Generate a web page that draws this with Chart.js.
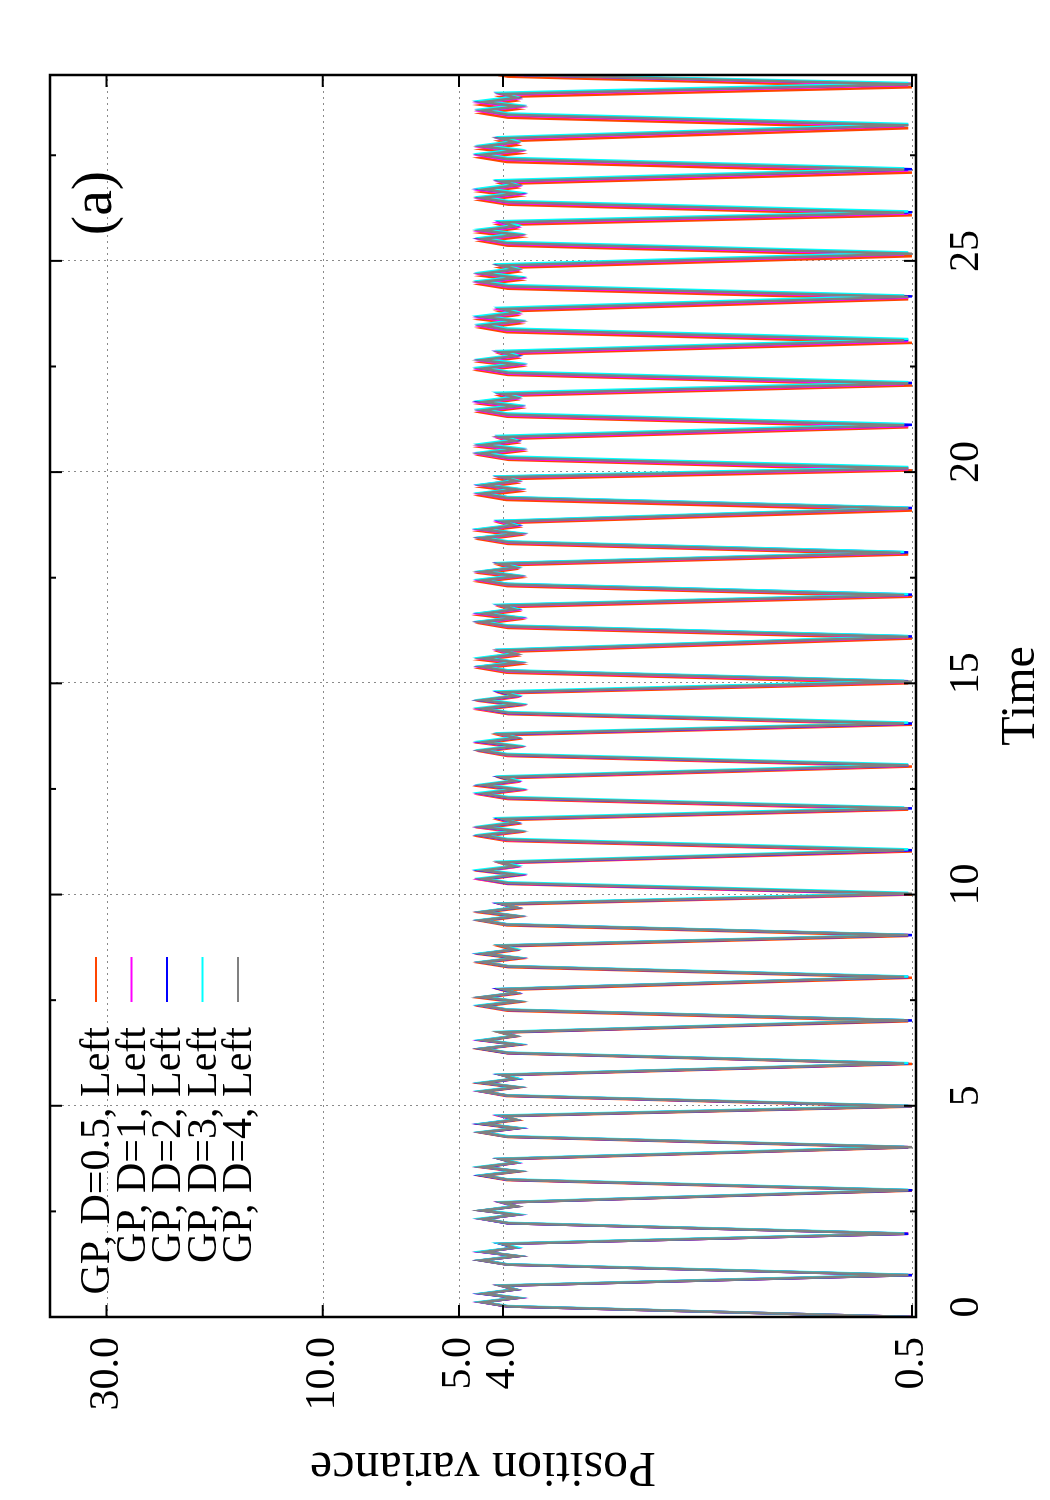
<!DOCTYPE html>
<html lang="en">
<head>
  <meta charset="UTF-8" />
  <title>Position variance vs Time (a)</title>
  <script src="https://cdn.jsdelivr.net/npm/chart.js"></script>
  <style>
    body { margin: 0; background: #fff; overflow: hidden; }
    /* the chart is drawn landscape, then turned a quarter turn like the original page */
    #wrap { position: absolute; left: 0; top: 0; width: 1500px; height: 1050px;
            transform-origin: 0 0; transform: translateY(1500px) rotate(-90deg); }
  </style>
</head>
<body>
<div id="wrap"><canvas id="chart" width="1500" height="1050"></canvas></div>

<script>
  // ---- data: [time, position variance] ----
  const seriesLabels = ['GP, D=0.5, Left', 'GP, D=1, Left', 'GP, D=2, Left', 'GP, D=3, Left', 'GP, D=4, Left'];
  const seriesColors = ['#ff4500', '#ff00ff', '#0000ff', '#00ffff', '#808080'];

  const dataD05 = [
    [0,0.5],[0.25,3.92],[0.35,4.43],[0.45,3.74],[0.55,4.4],[0.65,3.77],[0.74,4.02],
    [0.99,0.5],[1.24,3.9],[1.34,4.46],[1.44,3.72],[1.54,4.43],[1.64,3.75],[1.73,4.03],
    [1.97,0.51],[2.22,3.9],[2.32,4.42],[2.42,3.76],[2.52,4.44],[2.62,3.74],[2.71,4.0],
    [2.99,0.5],[3.24,3.92],[3.34,4.45],[3.44,3.72],[3.54,4.42],[3.64,3.78],[3.73,4.02],
    [4.01,0.51],[4.26,3.9],[4.36,4.44],[4.46,3.75],[4.56,4.43],[4.66,3.72],[4.75,4.03],
    [4.98,0.5],[5.23,3.93],[5.33,4.42],[5.43,3.73],[5.53,4.46],[5.63,3.76],[5.72,4.0],
    [5.99,0.5],[6.24,3.9],[6.34,4.47],[6.44,3.71],[6.54,4.41],[6.64,3.77],[6.73,4.04],
    [7.0,0.51],[7.25,3.91],[7.35,4.44],[7.45,3.73],[7.55,4.45],[7.65,3.75],[7.74,4.02],
    [8.03,0.5],[8.28,3.89],[8.38,4.46],[8.48,3.7],[8.58,4.42],[8.68,3.77],[8.77,4.05],
    [9.02,0.51],[9.27,3.92],[9.37,4.43],[9.47,3.74],[9.57,4.44],[9.67,3.72],[9.76,4.0],
    [10.0,0.5],[10.25,3.9],[10.35,4.45],[10.45,3.72],[10.55,4.43],[10.65,3.78],[10.74,4.03],
    [11.02,0.5],[11.27,3.93],[11.37,4.47],[11.47,3.73],[11.57,4.4],[11.67,3.74],[11.76,4.04],
    [12.01,0.51],[12.26,3.9],[12.36,4.44],[12.46,3.71],[12.56,4.45],[12.66,3.76],[12.75,4.01],
    [13.03,0.5],[13.28,3.91],[13.38,4.42],[13.48,3.75],[13.58,4.43],[13.68,3.73],[13.77,4.05],
    [14.02,0.5],[14.27,3.89],[14.37,4.46],[14.47,3.72],[14.57,4.41],[14.67,3.77],[14.76,4.02],
    [15.0,0.51],[15.25,3.92],[15.35,4.45],[15.45,3.7],[15.55,4.44],[15.65,3.75],[15.74,4.03],
    [16.06,0.5],[16.31,3.9],[16.41,4.43],[16.51,3.73],[16.61,4.46],[16.71,3.74],[16.8,4.0],
    [17.05,0.5],[17.3,3.91],[17.4,4.47],[17.5,3.71],[17.6,4.42],[17.7,3.78],[17.79,4.04],
    [18.05,0.51],[18.3,3.9],[18.4,4.44],[18.5,3.74],[18.6,4.45],[18.7,3.73],[18.79,4.02],
    [19.09,0.5],[19.34,3.93],[19.44,4.46],[19.54,3.72],[19.64,4.41],[19.74,3.76],[19.83,4.05],
    [20.04,0.5],[20.29,3.89],[20.39,4.43],[20.49,3.7],[20.59,4.44],[20.69,3.75],[20.78,4.01],
    [21.06,0.51],[21.31,3.91],[21.41,4.45],[21.51,3.73],[21.61,4.43],[21.71,3.77],[21.8,4.03],
    [22.05,0.5],[22.3,3.9],[22.4,4.47],[22.5,3.71],[22.6,4.42],[22.7,3.74],[22.79,4.0],
    [23.06,0.5],[23.31,3.92],[23.41,4.44],[23.51,3.74],[23.61,4.45],[23.71,3.76],[23.8,4.04],
    [24.09,0.51],[24.34,3.9],[24.44,4.46],[24.54,3.72],[24.64,4.41],[24.74,3.73],[24.83,4.02],
    [25.11,0.5],[25.36,3.91],[25.46,4.43],[25.56,3.7],[25.66,4.44],[25.76,3.77],[25.85,4.05],
    [26.08,0.5],[26.33,3.89],[26.43,4.45],[26.53,3.73],[26.63,4.43],[26.73,3.75],[26.82,4.01],
    [27.09,0.5],[27.34,3.92],[27.44,4.47],[27.54,3.71],[27.64,4.42],[27.74,3.74],[27.83,4.03],
    [28.14,0.51],[28.39,3.9],[28.49,4.44],[28.59,3.74],[28.69,4.45],[28.79,3.76],[28.88,4.02],
    [29.11,0.5],[29.36,3.9],[29.4,4.1]
  ];

  const dataD1 = [
    [0,0.5],[0.25,3.9],[0.35,4.47],[0.45,3.7],[0.55,4.43],[0.65,3.76],[0.74,4.04],
    [0.99,0.51],[1.24,3.91],[1.34,4.44],[1.44,3.73],[1.54,4.46],[1.64,3.74],[1.73,4.01],
    [1.97,0.51],[2.22,3.9],[2.32,4.46],[2.42,3.71],[2.52,4.42],[2.62,3.77],[2.71,4.04],
    [3.0,0.52],[3.25,3.92],[3.35,4.43],[3.45,3.74],[3.55,4.44],[3.65,3.73],[3.74,4.02],
    [4.02,0.51],[4.27,3.9],[4.37,4.45],[4.47,3.71],[4.57,4.43],[4.67,3.77],[4.76,4.05],
    [4.99,0.51],[5.24,3.91],[5.34,4.47],[5.44,3.73],[5.54,4.41],[5.64,3.74],[5.73,4.0],
    [6.0,0.51],[6.25,3.9],[6.35,4.44],[6.45,3.72],[6.55,4.45],[6.65,3.76],[6.74,4.03],
    [7.02,0.52],[7.27,3.93],[7.37,4.46],[7.47,3.74],[7.57,4.42],[7.67,3.73],[7.76,4.04],
    [8.05,0.51],[8.3,3.89],[8.4,4.43],[8.5,3.71],[8.6,4.44],[8.7,3.77],[8.79,4.01],
    [9.04,0.51],[9.29,3.91],[9.39,4.45],[9.49,3.73],[9.59,4.43],[9.69,3.75],[9.78,4.05],
    [10.01,0.51],[10.26,3.9],[10.36,4.47],[10.46,3.72],[10.56,4.4],[10.66,3.74],[10.75,4.02],
    [11.04,0.51],[11.29,3.92],[11.39,4.44],[11.49,3.74],[11.59,4.46],[11.69,3.76],[11.78,4.03],
    [12.03,0.52],[12.28,3.9],[12.38,4.46],[12.48,3.7],[12.58,4.42],[12.68,3.73],[12.77,4.0],
    [13.05,0.51],[13.3,3.91],[13.4,4.43],[13.5,3.73],[13.6,4.45],[13.7,3.77],[13.79,4.04],
    [14.04,0.51],[14.29,3.89],[14.39,4.47],[14.49,3.72],[14.59,4.43],[14.69,3.74],[14.78,4.02],
    [15.03,0.52],[15.28,3.92],[15.38,4.45],[15.48,3.74],[15.58,4.41],[15.68,3.76],[15.77,4.05],
    [16.09,0.51],[16.34,3.9],[16.44,4.44],[16.54,3.71],[16.64,4.46],[16.74,3.73],[16.83,4.01],
    [17.08,0.51],[17.33,3.91],[17.43,4.46],[17.53,3.73],[17.63,4.43],[17.73,3.77],[17.82,4.03],
    [18.08,0.52],[18.33,3.9],[18.43,4.43],[18.53,3.72],[18.63,4.45],[18.73,3.75],[18.82,4.04],
    [19.13,0.51],[19.38,3.92],[19.48,4.47],[19.58,3.74],[19.68,4.42],[19.78,3.73],[19.87,4.02],
    [20.07,0.51],[20.32,3.9],[20.42,4.45],[20.52,3.71],[20.62,4.44],[20.72,3.76],[20.81,4.05],
    [21.09,0.51],[21.34,3.91],[21.44,4.43],[21.54,3.73],[21.64,4.46],[21.74,3.74],[21.83,4.0],
    [22.08,0.52],[22.33,3.89],[22.43,4.46],[22.53,3.72],[22.63,4.42],[22.73,3.77],[22.82,4.03],
    [23.1,0.51],[23.35,3.92],[23.45,4.44],[23.55,3.74],[23.65,4.45],[23.75,3.73],[23.84,4.04],
    [24.13,0.51],[24.38,3.9],[24.48,4.47],[24.58,3.71],[24.68,4.41],[24.78,3.76],[24.87,4.01],
    [25.15,0.52],[25.4,3.91],[25.5,4.43],[25.6,3.73],[25.7,4.44],[25.8,3.75],[25.89,4.05],
    [26.12,0.51],[26.37,3.9],[26.47,4.45],[26.57,3.72],[26.67,4.43],[26.77,3.74],[26.86,4.02],
    [27.14,0.51],[27.39,3.92],[27.49,4.46],[27.59,3.74],[27.69,4.42],[27.79,3.77],[27.88,4.03],
    [28.19,0.52],[28.44,3.9],[28.54,4.44],[28.64,3.71],[28.74,4.45],[28.84,3.73],[28.93,4.0],
    [29.16,0.51],[29.4,3.75]
  ];

  const dataD2 = [
    [0,0.5],[0.25,3.91],[0.35,4.44],[0.45,3.73],[0.55,4.45],[0.65,3.74],[0.74,4.03],
    [0.99,0.5],[1.24,3.9],[1.34,4.47],[1.44,3.71],[1.54,4.42],[1.64,3.77],[1.73,4.04],
    [1.97,0.51],[2.22,3.92],[2.32,4.43],[2.42,3.74],[2.52,4.44],[2.62,3.73],[2.71,4.01],
    [3.0,0.5],[3.25,3.9],[3.35,4.46],[3.45,3.72],[3.55,4.41],[3.65,3.76],[3.74,4.05],
    [4.02,0.51],[4.27,3.91],[4.37,4.44],[4.47,3.7],[4.57,4.46],[4.67,3.75],[4.76,4.02],
    [4.99,0.5],[5.24,3.9],[5.34,4.43],[5.44,3.74],[5.54,4.44],[5.64,3.72],[5.73,4.03],
    [6.0,0.51],[6.25,3.92],[6.35,4.47],[6.45,3.71],[6.55,4.42],[6.65,3.77],[6.74,4.0],
    [7.02,0.5],[7.27,3.89],[7.37,4.45],[7.47,3.73],[7.57,4.43],[7.67,3.74],[7.76,4.05],
    [8.05,0.51],[8.3,3.91],[8.4,4.44],[8.5,3.72],[8.6,4.46],[8.7,3.76],[8.79,4.02],
    [9.04,0.5],[9.29,3.9],[9.39,4.46],[9.49,3.74],[9.59,4.41],[9.69,3.73],[9.78,4.04],
    [10.02,0.51],[10.27,3.92],[10.37,4.43],[10.47,3.71],[10.57,4.45],[10.67,3.77],[10.76,4.01],
    [11.05,0.5],[11.3,3.9],[11.4,4.47],[11.5,3.73],[11.6,4.42],[11.7,3.74],[11.79,4.03],
    [12.04,0.5],[12.29,3.91],[12.39,4.44],[12.49,3.72],[12.59,4.44],[12.69,3.76],[12.78,4.05],
    [13.06,0.51],[13.31,3.89],[13.41,4.46],[13.51,3.74],[13.61,4.43],[13.71,3.73],[13.8,4.02],
    [14.05,0.5],[14.3,3.92],[14.4,4.43],[14.5,3.71],[14.6,4.46],[14.7,3.75],[14.79,4.04],
    [15.05,0.51],[15.3,3.9],[15.4,4.45],[15.5,3.73],[15.6,4.41],[15.7,3.77],[15.79,4.01],
    [16.11,0.5],[16.36,3.91],[16.46,4.47],[16.56,3.72],[16.66,4.44],[16.76,3.74],[16.85,4.03],
    [17.1,0.5],[17.35,3.9],[17.45,4.44],[17.55,3.74],[17.65,4.42],[17.75,3.76],[17.84,4.05],
    [18.1,0.51],[18.35,3.92],[18.45,4.46],[18.55,3.71],[18.65,4.45],[18.75,3.73],[18.84,4.02],
    [19.15,0.5],[19.4,3.89],[19.5,4.43],[19.6,3.73],[19.7,4.43],[19.8,3.77],[19.89,4.04],
    [20.1,0.51],[20.35,3.91],[20.45,4.47],[20.55,3.72],[20.65,4.41],[20.75,3.74],[20.84,4.01],
    [21.12,0.5],[21.37,3.9],[21.47,4.44],[21.57,3.74],[21.67,4.46],[21.77,3.76],[21.86,4.03],
    [22.11,0.5],[22.36,3.92],[22.46,4.46],[22.56,3.71],[22.66,4.42],[22.76,3.73],[22.85,4.05],
    [23.13,0.51],[23.38,3.9],[23.48,4.43],[23.58,3.73],[23.68,4.44],[23.78,3.77],[23.87,4.02],
    [24.16,0.5],[24.41,3.91],[24.51,4.45],[24.61,3.72],[24.71,4.43],[24.81,3.74],[24.9,4.04],
    [25.18,0.51],[25.43,3.89],[25.53,4.47],[25.63,3.74],[25.73,4.41],[25.83,3.76],[25.92,4.01],
    [26.15,0.5],[26.4,3.92],[26.5,4.44],[26.6,3.71],[26.7,4.46],[26.8,3.73],[26.89,4.03],
    [27.17,0.5],[27.42,3.9],[27.52,4.46],[27.62,3.73],[27.72,4.42],[27.82,3.77],[27.91,4.05],
    [28.22,0.51],[28.47,3.91],[28.57,4.43],[28.67,3.72],[28.77,4.44],[28.87,3.74],[28.96,4.02],
    [29.19,0.5],[29.4,3.6]
  ];

  const dataD3 = [
    [0,0.51],[0.26,3.9],[0.36,4.46],[0.46,3.72],[0.56,4.43],[0.66,3.76],[0.75,4.02],
    [1.0,0.51],[1.25,3.92],[1.35,4.44],[1.45,3.74],[1.55,4.45],[1.65,3.73],[1.74,4.05],
    [1.98,0.52],[2.23,3.9],[2.33,4.47],[2.43,3.71],[2.53,4.41],[2.63,3.77],[2.72,4.01],
    [3.01,0.51],[3.26,3.91],[3.36,4.43],[3.46,3.73],[3.56,4.46],[3.66,3.74],[3.75,4.03],
    [4.03,0.52],[4.28,3.89],[4.38,4.45],[4.48,3.72],[4.58,4.42],[4.68,3.76],[4.77,4.04],
    [5.0,0.51],[5.25,3.92],[5.35,4.46],[5.45,3.74],[5.55,4.44],[5.65,3.73],[5.74,4.02],
    [6.01,0.51],[6.26,3.9],[6.36,4.43],[6.46,3.71],[6.56,4.43],[6.66,3.77],[6.75,4.05],
    [7.03,0.52],[7.28,3.91],[7.38,4.47],[7.48,3.73],[7.58,4.41],[7.68,3.75],[7.77,4.01],
    [8.06,0.51],[8.31,3.9],[8.41,4.44],[8.51,3.72],[8.61,4.45],[8.71,3.74],[8.8,4.03],
    [9.05,0.52],[9.3,3.92],[9.4,4.46],[9.5,3.74],[9.6,4.42],[9.7,3.76],[9.79,4.04],
    [10.04,0.51],[10.29,3.9],[10.39,4.43],[10.49,3.71],[10.59,4.46],[10.69,3.73],[10.78,4.02],
    [11.07,0.51],[11.32,3.91],[11.42,4.45],[11.52,3.73],[11.62,4.43],[11.72,3.77],[11.81,4.05],
    [12.06,0.52],[12.31,3.89],[12.41,4.47],[12.51,3.72],[12.61,4.41],[12.71,3.74],[12.8,4.01],
    [13.08,0.51],[13.33,3.92],[13.43,4.44],[13.53,3.74],[13.63,4.44],[13.73,3.76],[13.82,4.03],
    [14.07,0.51],[14.32,3.9],[14.42,4.46],[14.52,3.71],[14.62,4.42],[14.72,3.73],[14.81,4.04],
    [15.06,0.52],[15.31,3.91],[15.41,4.43],[15.51,3.73],[15.61,4.45],[15.71,3.77],[15.8,4.02],
    [16.12,0.51],[16.37,3.9],[16.47,4.45],[16.57,3.72],[16.67,4.43],[16.77,3.75],[16.86,4.05],
    [17.11,0.51],[17.36,3.92],[17.46,4.47],[17.56,3.74],[17.66,4.41],[17.76,3.73],[17.85,4.01],
    [18.11,0.52],[18.36,3.89],[18.46,4.44],[18.56,3.71],[18.66,4.46],[18.76,3.76],[18.85,4.03],
    [19.16,0.51],[19.41,3.91],[19.51,4.46],[19.61,3.73],[19.71,4.42],[19.81,3.74],[19.9,4.04],
    [20.12,0.51],[20.37,3.9],[20.47,4.43],[20.57,3.72],[20.67,4.44],[20.77,3.77],[20.86,4.02],
    [21.14,0.52],[21.39,3.92],[21.49,4.45],[21.59,3.74],[21.69,4.43],[21.79,3.73],[21.88,4.05],
    [22.13,0.51],[22.38,3.9],[22.48,4.47],[22.58,3.71],[22.68,4.41],[22.78,3.76],[22.87,4.01],
    [23.15,0.51],[23.4,3.91],[23.5,4.44],[23.6,3.73],[23.7,4.46],[23.8,3.74],[23.89,4.03],
    [24.18,0.52],[24.43,3.89],[24.53,4.46],[24.63,3.72],[24.73,4.42],[24.83,3.75],[24.92,4.04],
    [25.2,0.51],[25.45,3.92],[25.55,4.43],[25.65,3.74],[25.75,4.45],[25.85,3.73],[25.94,4.02],
    [26.17,0.51],[26.42,3.9],[26.52,4.45],[26.62,3.71],[26.72,4.43],[26.82,3.77],[26.91,4.05],
    [27.19,0.52],[27.44,3.91],[27.54,4.47],[27.64,3.73],[27.74,4.41],[27.84,3.74],[27.93,4.01],
    [28.24,0.51],[28.49,3.9],[28.59,4.44],[28.69,3.72],[28.79,4.46],[28.89,3.76],[28.98,4.03],
    [29.21,0.51],[29.4,3.3]
  ];

  const dataD4 = [
    [0,0.5],[0.25,3.9],[0.35,4.45],[0.45,3.72],[0.55,4.42],[0.65,3.75],[0.74,4.05],
    [0.99,0.51],[1.24,3.92],[1.34,4.48],[1.44,3.7],[1.54,4.4],[1.64,3.78],[1.73,4.0],
    [1.97,0.52],[2.22,3.88],[2.32,4.44],[2.42,3.74],[2.52,4.46],[2.62,3.72],[2.71,4.02],
    [3.0,0.51],[3.25,3.9],[3.35,4.42],[3.45,3.7],[3.55,4.45],[3.65,3.76],[3.74,4.05],
    [4.02,0.5],[4.27,3.94],[4.37,4.47],[4.47,3.73],[4.57,4.41],[4.67,3.74],[4.76,4.0],
    [4.99,0.5],[5.24,3.9],[5.34,4.45],[5.44,3.71],[5.54,4.43],[5.64,3.77],[5.73,4.03],
    [6.0,0.52],[6.25,3.88],[6.35,4.46],[6.45,3.73],[6.55,4.4],[6.65,3.75],[6.74,4.06],
    [7.02,0.51],[7.27,3.92],[7.37,4.43],[7.47,3.7],[7.57,4.47],[7.67,3.74],[7.76,4.01],
    [8.05,0.52],[8.3,3.9],[8.4,4.45],[8.5,3.72],[8.6,4.42],[8.7,3.78],[8.79,4.04],
    [9.04,0.51],[9.29,3.93],[9.39,4.48],[9.49,3.71],[9.59,4.44],[9.69,3.73],[9.78,4.02],
    [10.02,0.5],[10.27,3.89],[10.37,4.44],[10.47,3.74],[10.57,4.41],[10.67,3.76],[10.76,4.05],
    [11.05,0.52],[11.3,3.91],[11.4,4.46],[11.5,3.7],[11.6,4.45],[11.7,3.75],[11.79,4.0],
    [12.04,0.51],[12.29,3.9],[12.39,4.43],[12.49,3.72],[12.59,4.43],[12.69,3.77],[12.78,4.03],
    [13.06,0.51],[13.31,3.92],[13.41,4.47],[13.51,3.73],[13.61,4.4],[13.71,3.74],[13.8,4.06],
    [14.05,0.52],[14.3,3.88],[14.4,4.45],[14.5,3.71],[14.6,4.46],[14.7,3.76],[14.79,4.01],
    [15.04,0.5],[15.29,3.91],[15.39,4.44],[15.49,3.7],[15.59,4.42],[15.69,3.73],[15.78,4.04],
    [16.1,0.51],[16.35,3.9],[16.45,4.48],[16.55,3.74],[16.65,4.41],[16.75,3.77],[16.84,4.02],
    [17.09,0.52],[17.34,3.93],[17.44,4.43],[17.54,3.72],[17.64,4.45],[17.74,3.75],[17.83,4.05],
    [18.09,0.53],[18.34,3.89],[18.44,4.46],[18.54,3.7],[18.64,4.43],[18.74,3.78],[18.83,4.0],
    [19.14,0.51],[19.39,3.92],[19.49,4.45],[19.59,3.73],[19.69,4.4],[19.79,3.74],[19.88,4.03],
    [20.09,0.51],[20.34,3.9],[20.44,4.47],[20.54,3.71],[20.64,4.44],[20.74,3.76],[20.83,4.06],
    [21.11,0.52],[21.36,3.91],[21.46,4.44],[21.56,3.74],[21.66,4.42],[21.76,3.73],[21.85,4.01],
    [22.1,0.51],[22.35,3.88],[22.45,4.45],[22.55,3.72],[22.65,4.46],[22.75,3.77],[22.84,4.04],
    [23.12,0.52],[23.37,3.93],[23.47,4.43],[23.57,3.7],[23.67,4.41],[23.77,3.75],[23.86,4.02],
    [24.15,0.51],[24.4,3.9],[24.5,4.48],[24.6,3.73],[24.7,4.43],[24.8,3.74],[24.89,4.05],
    [25.17,0.5],[25.42,3.92],[25.52,4.44],[25.62,3.71],[25.72,4.45],[25.82,3.78],[25.91,4.0],
    [26.14,0.52],[26.39,3.89],[26.49,4.46],[26.59,3.74],[26.69,4.4],[26.79,3.75],[26.88,4.03],
    [27.16,0.52],[27.41,3.91],[27.51,4.45],[27.61,3.72],[27.71,4.44],[27.81,3.76],[27.9,4.06],
    [28.21,0.51],[28.46,3.9],[28.56,4.43],[28.66,3.7],[28.76,4.42],[28.86,3.73],[28.95,4.01],
    [29.18,0.5],[29.4,3.7]
  ];

  const seriesData = [dataD05, dataD1, dataD2, dataD3, dataD4];

  const xTickValues = [0, 5, 10, 15, 20, 25];
  const xTickLabels = ['0', '5', '10', '15', '20', '25'];
  const xMinorTicks = [2.5, 7.5, 12.5, 17.5, 22.5, 27.5];
  const yTickValues = [0.5, 4, 5, 10, 30];
  const yTickLabels = ['0.5', '4.0', '5.0', '10.0', '30.0'];
  const panelLabel = '(a)';

  const SERIF = "'Liberation Serif', 'Times New Roman', serif";

  // gnuplot look: dotted grid, black frame, inward ticks, key and panel label
  const gnuplotFrame = {
    id: 'gnuplotFrame',
    beforeDatasetsDraw(chart) {
      const { ctx, chartArea: a, scales: { x, y } } = chart;
      ctx.save();
      ctx.strokeStyle = '#8a8a8a';
      ctx.lineWidth = 1;
      ctx.setLineDash([2, 4]);
      ctx.beginPath();
      xTickValues.forEach(v => {
        const px = Math.round(x.getPixelForValue(v)) + 0.5;
        ctx.moveTo(px, a.top); ctx.lineTo(px, a.bottom);
      });
      yTickValues.forEach(v => {
        const py = Math.round(y.getPixelForValue(v)) + 0.5;
        ctx.moveTo(a.left, py); ctx.lineTo(a.right, py);
      });
      ctx.stroke();
      ctx.restore();
    },
    afterDatasetsDraw(chart) {
      const { ctx, chartArea: a, scales: { x, y } } = chart;
      ctx.save();
      ctx.strokeStyle = '#000';
      ctx.lineWidth = 2;
      ctx.beginPath();
      const tick = (v, len) => {
        const px = x.getPixelForValue(v);
        ctx.moveTo(px, a.bottom); ctx.lineTo(px, a.bottom - len);
        ctx.moveTo(px, a.top); ctx.lineTo(px, a.top + len);
      };
      xTickValues.forEach(v => tick(v, 12));
      xMinorTicks.forEach(v => tick(v, 6));
      yTickValues.forEach(v => {
        const py = y.getPixelForValue(v);
        ctx.moveTo(a.left, py); ctx.lineTo(a.left + 12, py);
        ctx.moveTo(a.right, py); ctx.lineTo(a.right - 12, py);
      });
      ctx.stroke();

      ctx.lineWidth = 2.5;
      ctx.strokeRect(a.left, a.top, a.right - a.left, a.bottom - a.top);

      // key
      ctx.font = '42px ' + SERIF;
      ctx.textAlign = 'right';
      ctx.textBaseline = 'middle';
      ctx.fillStyle = '#000';
      ctx.lineWidth = 2;
      seriesLabels.forEach((lab, i) => {
        const ky = a.top + 46 + i * 35.5;
        ctx.fillText(lab, a.left + 290, ky + 2);
        ctx.strokeStyle = seriesColors[i];
        ctx.beginPath();
        ctx.moveTo(a.left + 315, ky); ctx.lineTo(a.left + 360, ky);
        ctx.stroke();
      });

      ctx.font = '58px ' + SERIF;
      ctx.textAlign = 'center';
      ctx.fillText(panelLabel, a.right - 128, a.top + 46);
      ctx.restore();
    }
  };

  const ctx = document.getElementById('chart').getContext('2d');
  new Chart(ctx, {
    type: 'line',
    data: {
      datasets: seriesLabels.map((lab, i) => ({
        label: lab,
        data: seriesData[i],
        borderColor: seriesColors[i],
        borderWidth: 2.5,
        pointRadius: 0,
        tension: 0,
        fill: false,
        order: seriesLabels.length - i
      }))
    },
    options: {
      responsive: false,
      animation: false,
      devicePixelRatio: 1,
      layout: { padding: { left: 0, right: 75, top: 50, bottom: 0 } },
      plugins: { legend: { display: false }, tooltip: { enabled: false } },
      scales: {
        x: {
          type: 'linear',
          min: 0,
          max: 29.4,
          afterFit(s) { s.height = 134; },
          afterBuildTicks(s) { s.ticks = xTickValues.map(v => ({ value: v })); },
          grid: { display: false },
          border: { display: false },
          ticks: {
            autoSkip: false,
            maxRotation: 0,
            padding: 18,
            labelOffset: 10,
            color: '#000',
            font: { family: SERIF, size: 42 },
            callback: v => xTickLabels[xTickValues.indexOf(v)]
          },
          title: { display: true, text: 'Time', color: '#000', font: { family: SERIF, size: 48 }, padding: 0 }
        },
        y: {
          type: 'logarithmic',
          min: 0.49,
          max: 40,
          afterFit(s) { s.width = 183; },
          afterBuildTicks(s) { s.ticks = yTickValues.map(v => ({ value: v })); },
          grid: { display: false },
          border: { display: false },
          ticks: {
            autoSkip: false,
            padding: 12,
            color: '#000',
            font: { family: SERIF, size: 42 },
            callback: v => yTickLabels[yTickValues.indexOf(v)]
          },
          title: { display: true, text: 'Position variance', color: '#000', font: { family: SERIF, size: 50 }, padding: { top: 4, bottom: 0 } }
        }
      }
    },
    plugins: [gnuplotFrame]
  });
</script>
</body>
</html>
